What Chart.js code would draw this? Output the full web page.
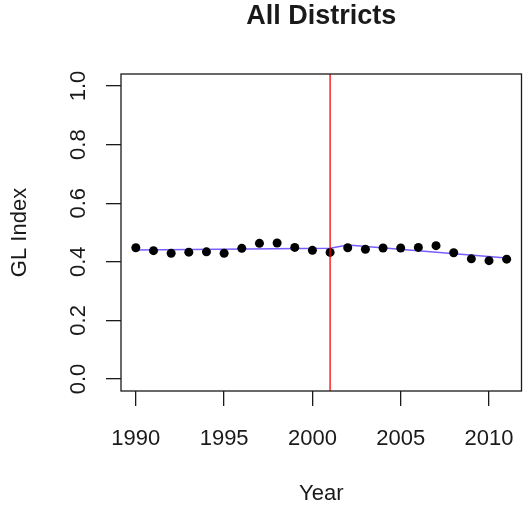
<!DOCTYPE html>
<html>
<head>
<meta charset="utf-8">
<title>All Districts</title>
<script src="https://cdn.jsdelivr.net/npm/chart.js@4/dist/chart.umd.min.js"></script>
<style>
  html, body { margin: 0; padding: 0; background: #ffffff; }
  #wrap { width: 526px; height: 508px; }
</style>
</head>
<body>
<div id="wrap"><canvas id="c" width="526" height="508"></canvas></div>
<script>
// Yearly GL index, all districts
const years = [1990, 1991, 1992, 1993, 1994, 1995, 1996, 1997, 1998, 1999, 2000,
               2001, 2002, 2003, 2004, 2005, 2006, 2007, 2008, 2009, 2010, 2011];
const glIndex = [0.448, 0.438, 0.429, 0.433, 0.434, 0.429, 0.446, 0.463, 0.464, 0.449, 0.439,
                 0.432, 0.448, 0.443, 0.447, 0.447, 0.449, 0.455, 0.431, 0.410, 0.404, 0.409];

// Segmented trend: before and after the break year
const fitYears = [1990, 2001, 2002, 2011];
const fitValues = [0.440, 0.446, 0.457, 0.413];
const breakYear = 2001;

// Axis ticks
const xTicks = [1990, 1995, 2000, 2005, 2010];
const yTicks = [0.0, 0.2, 0.4, 0.6, 0.8, 1.0];
const yTickLabels = ['0.0', '0.2', '0.4', '0.6', '0.8', '1.0'];

const chartTitle = 'All Districts';
const xTitle = 'Year';
const yTitle = 'GL Index';

const FONT = '"Liberation Sans", Arial, Helvetica, sans-serif';
const INK = '#1a1a1a';

const frame = {
  id: 'frame',
  afterDatasetsDraw(chart) {
    const { ctx, chartArea: a, scales } = chart;
    ctx.save();
    // break year marker
    const bx = scales.x.getPixelForValue(breakYear);
    ctx.strokeStyle = '#ff0000';
    ctx.lineWidth = 1.3;
    ctx.beginPath();
    ctx.moveTo(bx, a.top);
    ctx.lineTo(bx, a.bottom);
    ctx.stroke();
    // plot box
    ctx.strokeStyle = INK;
    ctx.lineWidth = 1.3;
    ctx.strokeRect(a.left, a.top, a.right - a.left, a.bottom - a.top);
    ctx.restore();
  },
  afterDraw(chart) {
    const { ctx, chartArea: a, scales } = chart;
    ctx.save();
    // title centred over the plot region
    ctx.fillStyle = INK;
    ctx.font = 'bold 27px ' + FONT;
    ctx.textAlign = 'center';
    ctx.textBaseline = 'middle';
    ctx.fillText(chartTitle, (a.left + a.right) / 2, 17);
    // y tick labels, written parallel to the axis
    ctx.font = '22px ' + FONT;
    ctx.textBaseline = 'alphabetic';
    yTicks.forEach((v, i) => {
      const py = scales.y.getPixelForValue(v);
      ctx.save();
      ctx.translate(85, py);
      ctx.rotate(-Math.PI / 2);
      ctx.fillText(yTickLabels[i], 0, 0);
      ctx.restore();
    });
    ctx.restore();
  }
};

new Chart(document.getElementById('c'), {
  type: 'scatter',
  data: {
    datasets: [
      {
        label: 'GL Index',
        data: years.map((y, i) => ({ x: y, y: glIndex[i] })),
        pointRadius: 4.5,
        pointBackgroundColor: '#000000',
        pointBorderColor: '#000000',
        pointBorderWidth: 0,
        showLine: false
      },
      {
        label: 'Trend',
        data: fitYears.map((y, i) => ({ x: y, y: fitValues[i] })),
        showLine: true,
        pointRadius: 0,
        borderColor: '#7b5cff',
        borderWidth: 1.5,
        tension: 0
      }
    ]
  },
  options: {
    responsive: false,
    animation: false,
    devicePixelRatio: 1,
    layout: { padding: { top: 74, right: 2, bottom: 0, left: 0 } },
    plugins: {
      legend: { display: false },
      tooltip: { enabled: false },
      title: { display: false }
    },
    scales: {
      x: {
        type: 'linear',
        min: 1989.16,
        max: 2011.84,
        afterBuildTicks(scale) { scale.ticks = xTicks.map(v => ({ value: v })); },
        afterFit(scale) {
          scale.height = 117;
          scale.paddingLeft = 0;
          scale.paddingRight = 0;
        },
        ticks: {
          color: INK,
          font: { family: FONT, size: 22 },
          padding: 20,
          maxRotation: 0,
          callback: v => String(v)
        },
        grid: { drawOnChartArea: false, tickLength: 15, color: INK, lineWidth: 1.3 },
        border: { display: false },
        title: {
          display: true,
          text: xTitle,
          color: INK,
          font: { family: FONT, size: 22 },
          padding: { top: 0, bottom: 1 }
        }
      },
      y: {
        type: 'linear',
        min: -0.041,
        max: 1.041,
        afterBuildTicks(scale) { scale.ticks = yTicks.map(v => ({ value: v })); },
        afterFit(scale) {
          scale.width = 121;
          scale.paddingTop = 0;
          scale.paddingBottom = 0;
        },
        ticks: { display: false },
        grid: { drawOnChartArea: false, tickLength: 15, color: INK, lineWidth: 1.3 },
        border: { display: false },
        title: {
          display: true,
          text: yTitle,
          color: INK,
          font: { family: FONT, size: 22 },
          padding: { top: 7, bottom: 0 }
        }
      }
    }
  },
  plugins: [frame]
});
</script>
</body>
</html>
